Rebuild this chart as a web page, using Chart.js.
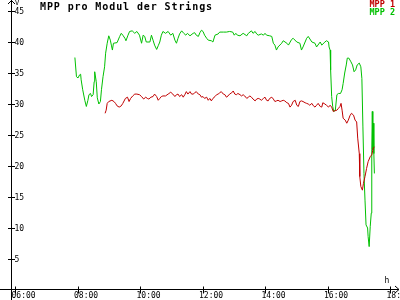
<!DOCTYPE html>
<html>
<head>
<meta charset="utf-8">
<script src="https://cdn.jsdelivr.net/npm/chart.js@4/dist/chart.umd.min.js"></script>
<style>
html,body{margin:0;padding:0;background:#fff;overflow:hidden;}
#wrap{width:400px;height:300px;position:relative;}
</style>
</head>
<body>
<div id="wrap"><canvas id="c" width="400" height="300"></canvas></div>
<script>
const titleText = 'MPP pro Modul der Strings';
const seriesNames = ['MPP 1', 'MPP 2'];
const seriesColors = ['#c00000', '#00c000'];
const yUnit = 'V';
const xUnit = 'h';
const yTicks = [5, 10, 15, 20, 25, 30, 35, 40, 45];
const xTickLabels = ['06:00', '08:00', '10:00', '12:00', '14:00', '16:00', '18:00'];

const mpp1Times = ['08:53','08:55','08:57','09:00','09:06','09:10','09:13','09:16','09:20','09:24','09:27','09:32','09:36','09:39','09:42','09:46','09:50','09:54','09:59','10:03','10:07','10:11','10:14','10:17','10:21','10:25','10:28','10:32','10:35','10:38','10:41','10:44','10:49','10:54','10:59','11:03','11:07','11:10','11:13','11:16','11:20','11:23','11:26','11:29','11:32','11:36','11:39','11:42','11:45','11:48','11:52','11:55','11:58','12:01','12:04','12:08','12:11','12:14','12:17','12:20','12:24','12:27','12:30','12:33','12:36','12:40','12:43','12:46','12:49','12:52','12:56','12:59','13:02','13:05','13:08','13:12','13:15','13:18','13:21','13:25','13:28','13:31','13:34','13:37','13:41','13:44','13:47','13:50','13:53','13:57','14:00','14:03','14:06','14:09','14:13','14:16','14:19','14:22','14:25','14:29','14:32','14:35','14:38','14:42','14:45','14:48','14:51','14:54','14:58','15:01','15:04','15:07','15:10','15:13','15:17','15:20','15:23','15:26','15:30','15:33','15:36','15:39','15:42','15:46','15:49','15:51','15:55','15:58','16:02','16:05','16:08','16:11','16:14','16:18','16:21','16:24','16:26','16:28','16:30','16:34','16:37','16:40','16:43','16:46','16:50','16:53','16:56','16:58','17:01','17:02','17:04','17:07','17:09','17:12','17:15','17:18','17:22','17:25','17:28','17:30'];
const mpp1Values = [28.5,29.0,30.1,30.4,30.6,30.4,30.1,29.7,29.5,29.7,30.1,30.9,31.1,30.4,30.9,31.3,31.6,31.6,31.5,31.2,30.8,31.1,30.9,30.8,31.1,31.2,31.6,31.2,30.6,30.9,31.2,31.3,31.3,31.6,31.9,31.6,31.2,31.5,31.6,31.2,31.5,31.1,31.5,32.0,31.6,32.0,31.6,31.6,31.8,32.0,31.6,31.5,31.1,31.2,30.9,31.1,30.6,30.9,30.5,30.9,31.2,31.5,31.6,31.8,32.0,31.6,31.5,31.1,31.3,31.6,31.8,32.1,31.6,31.5,31.7,31.5,31.3,31.5,31.3,30.9,31.1,31.3,31.1,30.8,30.5,30.8,30.9,30.8,30.6,30.9,31.1,30.6,30.5,30.9,31.1,30.8,30.4,30.5,30.6,30.4,30.5,30.6,30.5,30.2,30.1,29.5,29.8,30.4,30.6,29.8,29.6,30.4,30.5,30.4,30.2,30.1,30.0,29.8,30.1,29.7,29.5,29.8,30.1,29.6,29.5,30.2,30.0,29.8,29.5,29.8,29.5,28.8,28.9,29.0,29.3,29.6,30.1,29.0,27.7,27.4,26.9,27.4,28.1,28.5,28.2,27.4,27.1,24.5,22.0,18.3,16.7,16.1,17.2,18.3,19.6,20.7,21.5,21.8,22.9,23.1];

const mpp2Times = ['07:55','07:58','08:01','08:04','08:06','08:07','08:10','08:14','08:17','08:20','08:22','08:25','08:27','08:30','08:32','08:33','08:36','08:38','08:41','08:44','08:46','08:49','08:52','08:54','08:57','09:00','09:03','09:05','09:07','09:09','09:16','09:21','09:24','09:27','09:31','09:33','09:37','09:40','09:45','09:50','09:54','09:59','10:03','10:06','10:09','10:12','10:19','10:22','10:25','10:28','10:32','10:35','10:38','10:41','10:44','10:49','10:54','10:59','11:03','11:07','11:10','11:13','11:16','11:20','11:24','11:28','11:31','11:36','11:42','11:45','11:48','11:52','11:55','11:58','12:01','12:04','12:08','12:11','12:17','12:20','12:24','12:30','12:33','12:40','12:46','12:52','12:58','13:01','13:04','13:07','13:12','13:18','13:25','13:28','13:34','13:37','13:41','13:44','13:47','13:53','13:57','14:00','14:03','14:09','14:13','14:16','14:19','14:22','14:25','14:32','14:35','14:42','14:45','14:51','14:54','15:01','15:07','15:10','15:13','15:20','15:23','15:30','15:36','15:39','15:46','15:49','15:55','15:58','16:02','16:03','16:05','16:06','16:08','16:10','16:12','16:15','16:18','16:21','16:25','16:28','16:30','16:33','16:36','16:38','16:41','16:45','16:48','16:51','16:54','16:57','17:01','17:04','17:06','17:08','17:10','17:12','17:14','17:17','17:18','17:20','17:22','17:24','17:25','17:26','17:27','17:28','17:29','17:30'];
const mpp2Values = [37.5,34.4,34.2,34.7,34.8,33.9,32.3,30.6,29.6,30.6,31.5,31.7,31.2,31.5,33.6,35.2,33.6,31.0,30.0,30.4,32.3,34.4,36.0,38.2,39.8,41.0,40.3,39.5,38.7,39.8,39.9,40.9,41.4,41.1,40.6,40.2,41.1,41.7,41.8,41.4,41.7,41.1,39.8,41.1,40.9,40.0,40.0,41.1,40.3,39.5,38.8,39.4,40.0,41.1,41.7,41.4,41.7,41.1,41.4,40.3,39.8,40.6,41.3,41.8,41.4,41.1,41.4,41.0,41.4,41.5,41.1,40.9,41.5,41.9,41.7,41.1,40.6,40.3,40.2,40.0,41.1,41.3,41.6,41.6,41.6,41.7,41.6,41.1,41.4,41.1,41.0,41.4,41.0,41.4,41.8,41.4,41.7,41.3,41.1,41.3,41.1,41.4,41.1,41.0,40.9,39.8,39.5,38.7,39.2,39.8,40.2,39.8,39.5,40.4,40.6,40.0,39.8,38.7,39.2,40.6,40.9,40.0,39.8,39.2,40.0,39.5,40.0,40.2,40.0,39.2,38.7,35.5,31.2,29.6,28.8,29.0,31.5,31.7,31.7,32.3,33.3,35.0,36.3,37.4,37.4,36.8,36.3,35.2,35.5,36.3,36.6,36.0,34.1,26.3,18.8,14.5,10.5,10.0,8.6,7.0,10.2,12.4,22.6,28.8,22.6,26.9,22.0,18.8];

function toMin(s) { const p = s.split(':'); return (+p[0]) * 60 + (+p[1]); }
function pts(times, vals) { return times.map((t, i) => ({ x: toMin(t), y: vals[i] })); }

const MONO = '"DejaVu Sans Mono", "Liberation Mono", monospace';

const decor = {
  id: 'decor',
  afterDraw(chart) {
    const ctx = chart.ctx;
    const xs = chart.scales.x, ys = chart.scales.y;
    const ax = 11.5;                       // y axis line
    const ay = Math.round(ys.getPixelForValue(0)) - 0.5; // x axis line
    ctx.save();
    ctx.strokeStyle = '#000';
    ctx.lineWidth = 1;
    ctx.beginPath();
    ctx.moveTo(ax, 0); ctx.lineTo(ax, 300);
    ctx.moveTo(0, ay); ctx.lineTo(399, ay);
    // arrows
    ctx.moveTo(8, 4); ctx.lineTo(ax, 0.5); ctx.lineTo(15, 4);
    ctx.moveTo(395, ay - 3.5); ctx.lineTo(399, ay); ctx.lineTo(395, ay + 3.5);
    // y ticks
    yTicks.forEach(v => {
      const py = Math.round(ys.getPixelForValue(v)) + 0.5;
      ctx.moveTo(8, py); ctx.lineTo(15, py);
    });
    // x ticks
    xTickLabels.forEach(l => {
      const px = Math.round(xs.getPixelForValue(toMin(l))) + 0.5;
      ctx.moveTo(px, ay - 3); ctx.lineTo(px, ay + 4);
    });
    ctx.stroke();

    ctx.fillStyle = '#000';
    ctx.font = '8px ' + MONO;
    ctx.textAlign = 'left';
    ctx.textBaseline = 'middle';
    yTicks.forEach(v => {
      const py = Math.round(ys.getPixelForValue(v)) + 1;
      ctx.fillText(String(v), 14.5, py);
    });
    ctx.textBaseline = 'top';
    xTickLabels.forEach(l => {
      const px = xs.getPixelForValue(toMin(l));
      ctx.fillText(l, px - 3.5, ay + 2);
    });
    // units
    ctx.font = '7px ' + MONO;
    ctx.fillText(yUnit, 15, 0);
    ctx.font = '8px ' + MONO;
    ctx.fillText(xUnit, 384.5, 277);

    // title
    ctx.font = 'bold 10px ' + MONO;
    try { ctx.letterSpacing = '0.9px'; } catch (e) {}
    ctx.textBaseline = 'top';
    ctx.fillText(titleText, 40, 2);
    try { ctx.letterSpacing = '0px'; } catch (e) {}

    // legend
    ctx.font = 'bold 8.5px ' + MONO;
    ctx.textAlign = 'right';
    seriesNames.forEach((n, i) => {
      ctx.fillStyle = seriesColors[i];
      ctx.fillText(n, 395, 1 + i * 8);
    });
    ctx.restore();
  }
};

new Chart(document.getElementById('c'), {
  type: 'line',
  data: {
    datasets: [
      { label: seriesNames[0], data: pts(mpp1Times, mpp1Values), borderColor: seriesColors[0], backgroundColor: seriesColors[0], borderWidth: 1, pointRadius: 0, tension: 0, fill: false },
      { label: seriesNames[1], data: pts(mpp2Times, mpp2Values), borderColor: seriesColors[1], backgroundColor: seriesColors[1], borderWidth: 1, pointRadius: 0, tension: 0, fill: false }
    ]
  },
  options: {
    responsive: false,
    animation: false,
    devicePixelRatio: 1,
    layout: { padding: { left: 15, right: 10, top: 11, bottom: 10 } },
    plugins: { legend: { display: false }, tooltip: { enabled: false }, title: { display: false } },
    scales: {
      x: { type: 'linear', min: toMin(xTickLabels[0]), max: toMin(xTickLabels[xTickLabels.length - 1]), display: false },
      y: { type: 'linear', min: 0, max: 45, display: false }
    }
  },
  plugins: [decor]
});
</script>
</body>
</html>
